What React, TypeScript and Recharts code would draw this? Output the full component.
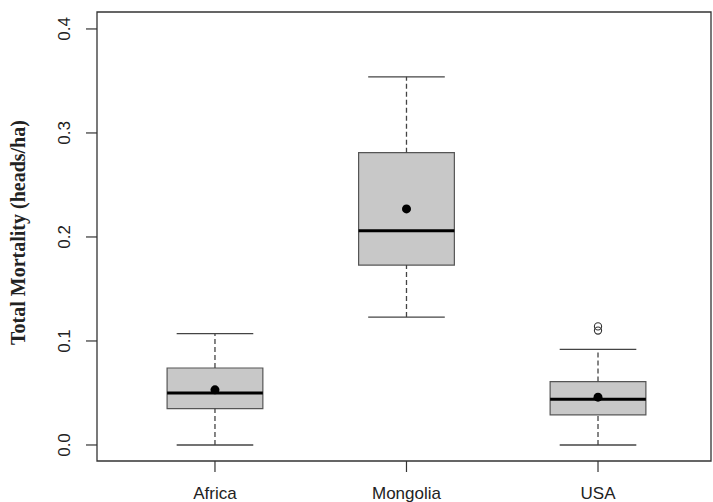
import React from "react";
import {
  ComposedChart,
  XAxis,
  YAxis,
  Scatter,
  ReferenceArea,
  ReferenceLine,
} from "recharts";

const categories = ["Africa", "Mongolia", "USA"];
const whiskerLow = [0.0, 0.123, 0.0];
const q1 = [0.035, 0.173, 0.029];
const median = [0.05, 0.206, 0.044];
const q3 = [0.074, 0.281, 0.061];
const whiskerHigh = [0.107, 0.354, 0.092];
const means = [0.053, 0.227, 0.046];
const outlierCat = [3, 3];
const outlierVals = [0.110, 0.114];
const yTicks = [0, 0.1, 0.2, 0.3, 0.4];

const X_MIN = 0.384;
const X_MAX = 3.59;
const Y_MIN = -0.0154;
const Y_MAX = 0.4163;
const HALF_BOX = 0.25;
const HALF_CAP = 0.2;

const meanData = categories.map((c, i) => ({ x: i + 1, y: means[i] }));
const outlierData = outlierVals.map((v, i) => ({ x: outlierCat[i], y: v }));

const sans = "'Liberation Sans', Arial, sans-serif";

const YTick = (props: any) => {
  const { x, y, payload } = props;
  const bx = x - 13.5;
  return (
    <text
      x={bx}
      y={y}
      transform={`rotate(-90, ${bx}, ${y})`}
      textAnchor="middle"
      fontFamily={sans}
      fontSize={17}
      fill="#222"
    >
      {payload.value.toFixed(1)}
    </text>
  );
};

const XTick = (props: any) => {
  const { x, y, payload } = props;
  return (
    <text
      x={x}
      y={y + 25}
      textAnchor="middle"
      fontFamily={sans}
      fontSize={17}
      fill="#222"
    >
      {categories[payload.value - 1]}
    </text>
  );
};

const YTitle = (props: any) => {
  const { viewBox } = props;
  const cy = viewBox.y + viewBox.height / 2 - 4;
  const bx = 25;
  return (
    <text
      x={bx}
      y={cy}
      transform={`rotate(-90, ${bx}, ${cy})`}
      textAnchor="middle"
      fontFamily="'Liberation Serif', 'Times New Roman', serif"
      fontWeight="bold"
      fontSize={20}
      fill="#222"
    >
      Total Mortality (heads/ha)
    </text>
  );
};

export default function App() {
  return (
    <div style={{ position: "absolute", left: 0, top: 0, background: "#fff" }}>
      <ComposedChart
        width={713}
        height={502}
        margin={{ top: 12, right: 2, bottom: 0, left: 0 }}
      >
        <XAxis
          type="number"
          dataKey="x"
          domain={[X_MIN, X_MAX]}
          ticks={[1, 2, 3]}
          allowDataOverflow
          height={41}
          tickSize={11}
          tickLine={{ stroke: "#333", strokeWidth: 1.2 }}
          axisLine={false}
          tick={<XTick />}
          interval={0}
        />
        <YAxis
          type="number"
          dataKey="y"
          domain={[Y_MIN, Y_MAX]}
          ticks={yTicks}
          allowDataOverflow
          width={97}
          tickSize={11}
          tickLine={{ stroke: "#333", strokeWidth: 1.2 }}
          axisLine={false}
          tick={<YTick />}
          interval={0}
          label={<YTitle />}
        />
        <ReferenceArea
          x1={X_MIN}
          x2={X_MAX}
          y1={Y_MIN}
          y2={Y_MAX}
          fill="none"
          stroke="#333"
          strokeWidth={1.3}
          ifOverflow="visible"
        />
        {categories.map((c, i) => (
          <ReferenceLine
            key={`wl-${c}`}
            segment={[
              { x: i + 1, y: whiskerLow[i] },
              { x: i + 1, y: q1[i] },
            ]}
            stroke="#444"
            strokeWidth={1.3}
            strokeDasharray="5 3"
          />
        ))}
        {categories.map((c, i) => (
          <ReferenceLine
            key={`wh-${c}`}
            segment={[
              { x: i + 1, y: q3[i] },
              { x: i + 1, y: whiskerHigh[i] },
            ]}
            stroke="#444"
            strokeWidth={1.3}
            strokeDasharray="5 3"
          />
        ))}
        {categories.map((c, i) => (
          <ReferenceLine
            key={`cl-${c}`}
            segment={[
              { x: i + 1 - HALF_CAP, y: whiskerLow[i] },
              { x: i + 1 + HALF_CAP, y: whiskerLow[i] },
            ]}
            stroke="#444"
            strokeWidth={1.3}
          />
        ))}
        {categories.map((c, i) => (
          <ReferenceLine
            key={`ch-${c}`}
            segment={[
              { x: i + 1 - HALF_CAP, y: whiskerHigh[i] },
              { x: i + 1 + HALF_CAP, y: whiskerHigh[i] },
            ]}
            stroke="#444"
            strokeWidth={1.3}
          />
        ))}
        {categories.map((c, i) => (
          <ReferenceArea
            key={`box-${c}`}
            x1={i + 1 - HALF_BOX}
            x2={i + 1 + HALF_BOX}
            y1={q1[i]}
            y2={q3[i]}
            fill="#c8c8c8"
            fillOpacity={1}
            stroke="#555"
            strokeWidth={1.2}
          />
        ))}
        {categories.map((c, i) => (
          <ReferenceLine
            key={`med-${c}`}
            segment={[
              { x: i + 1 - HALF_BOX, y: median[i] },
              { x: i + 1 + HALF_BOX, y: median[i] },
            ]}
            stroke="#000"
            strokeWidth={3}
          />
        ))}
        <Scatter
          data={meanData}
          dataKey="y"
          isAnimationActive={false}
          shape={(p: any) => <circle cx={p.cx} cy={p.cy} r={4.5} fill="#000" />}
        />
        <Scatter
          data={outlierData}
          dataKey="y"
          isAnimationActive={false}
          shape={(p: any) => (
            <circle
              cx={p.cx}
              cy={p.cy}
              r={3.6}
              fill="none"
              stroke="#333"
              strokeWidth={1.1}
            />
          )}
        />
      </ComposedChart>
    </div>
  );
}
